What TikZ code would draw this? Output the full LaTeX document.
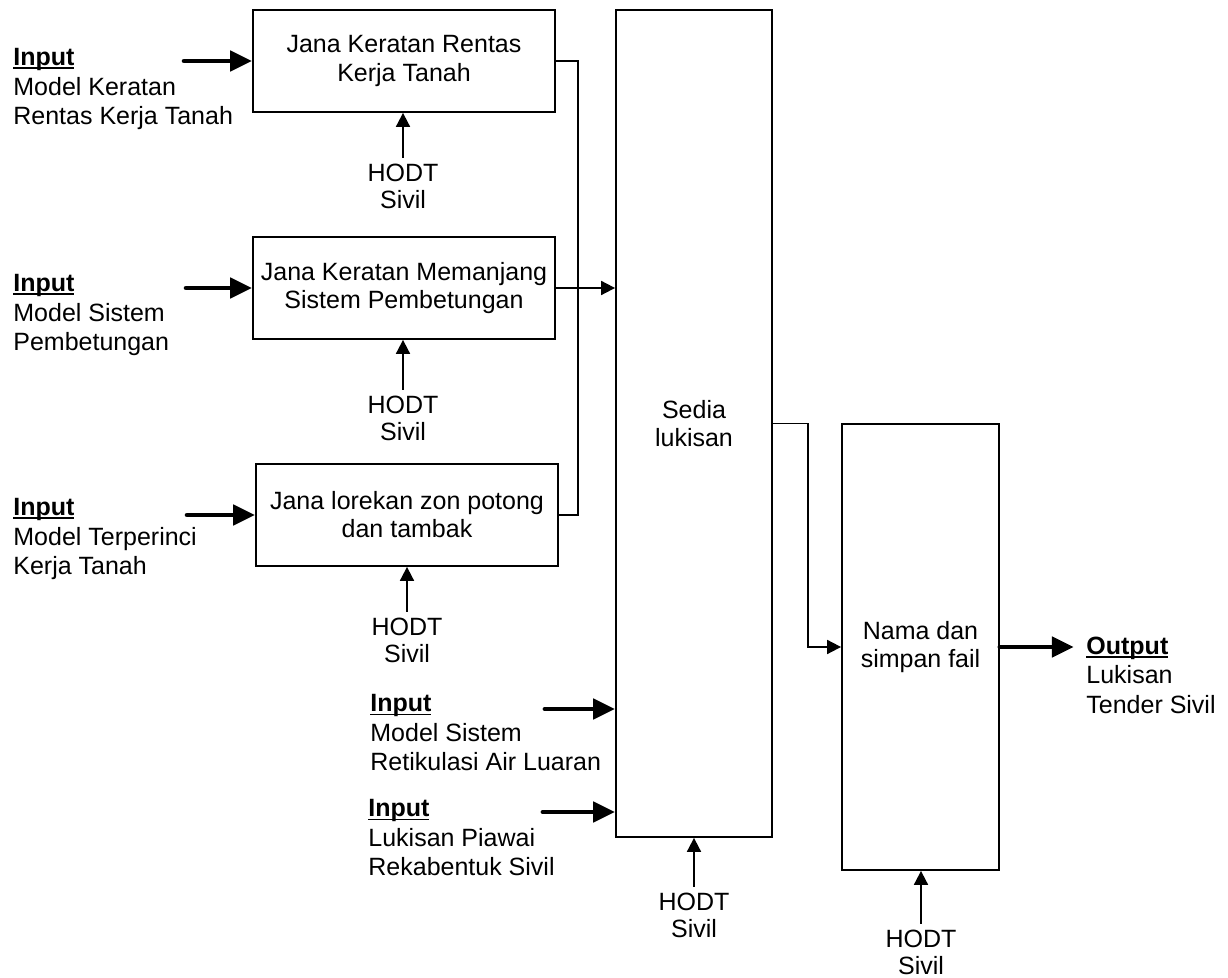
\documentclass[tikz,border=0pt]{standalone}
\usepackage{fontspec}
\setmainfont{Liberation Sans}
\usetikzlibrary{arrows.meta}
\usetikzlibrary{positioning}
\tikzset{>={Triangle[length=7pt,width=7pt]}}
\tikzset{proses/.style={draw,line width=0.9pt,align=center,inner sep=2pt,minimum width=151pt,minimum height=51pt}}
\tikzset{masuk/.style={align=left,anchor=west,inner sep=0pt,font=\fontsize{12.5}{14.75}\selectfont}}
\tikzset{hodt/.style={align=center,anchor=north,inner sep=3pt,font=\fontsize{12.5}{13.5}\selectfont}}
\tikzset{tebal/.style={line width=2.4pt,line cap=round,-{Triangle[length=11pt,width=10pt]}}}
\tikzset{garis/.style={line width=0.9pt}}
% tajuk tebal bergaris bawah, garis rapat pada garis dasar
\newcommand{\tajuk}[1]{\setbox0\hbox{\textbf{#1}}\rlap{\rule[-1.7pt]{\wd0}{0.9pt}}\box0}

\begin{document}
\begin{tikzpicture}[x=0.5pt,y=-0.5pt,font=\fontsize{12.5}{14}\selectfont]
				\useasboundingbox (0,0) rectangle (1228,978);
				% proses kiri
				\node[proses] (jkr) at (404,61) {Jana Keratan Rentas\\Kerja Tanah};
				\node[proses] (jkm) at (404,288) {Jana Keratan Memanjang\\Sistem Pembetungan};
				\node[proses] (jlz) at (407,515) {Jana lorekan zon potong\\dan tambak};
				% proses utama
				\node[proses,minimum width=78pt,minimum height=413.5pt] (sedia) at (694,423.5) {Sedia\\lukisan};
				\node[proses,minimum width=78.5pt,minimum height=223pt] (nama) at (920.5,647) {Nama dan\\simpan fail};
				
				% input
				\node[masuk] (in1) at (13,89) {\tajuk{Input}\\Model Keratan\\Rentas Kerja Tanah};
				\node[masuk] (in2) at (13,315) {\tajuk{Input}\\Model Sistem\\Pembetungan};
				\node[masuk] (in3) at (13,539) {\tajuk{Input}\\Model Terperinci\\Kerja Tanah};
				\node[masuk] (in4) at (370,733) {\tajuk{Input}\\Model Sistem\\Retikulasi Air Luaran};
				\node[masuk] (in5) at (368,838) {\tajuk{Input}\\Lukisan Piawai\\Rekabentuk Sivil};
				\node[masuk] (out) at (1086,675) {\tajuk{Output}\\Lukisan\\Tender Sivil};
				\coordinate[left=34pt of jkr.west] (a1);
				\coordinate[left=33pt of jkm.west] (a2);
				\coordinate[left=34pt of jlz.west] (a3);
				\coordinate (a4) at (545,709);
				\coordinate (a5) at (543,812);
				\coordinate[right=37pt of nama.east] (k1);
				\draw[tebal] (a1) -- (jkr.west);
				\draw[tebal] (a2) -- (jkm.west);
				\draw[tebal] (a3) -- (jlz.west);
				\draw[tebal] (a4) -- (a4 -| sedia.west);
				\draw[tebal] (a5) -- (a5 -| sedia.west);
				\draw[tebal] (nama.east) -- (k1);
				
				% HODT Sivil
				\node[hodt] (h1) at (403,158) {HODT\\Sivil};
				\node[hodt] (h2) at (403,390) {HODT\\Sivil};
				\node[hodt] (h3) at (407,612) {HODT\\Sivil};
				\node[hodt] (h4) at (694,887) {HODT\\Sivil};
				\node[hodt] (h5) at (921,924) {HODT\\Sivil};
				\draw[garis,->] (h1.north) -- (h1.north |- jkr.south);
				\draw[garis,->] (h2.north) -- (h2.north |- jkm.south);
				\draw[garis,->] (h3.north) -- (h3.north |- jlz.south);
				\draw[garis,->] (h4.north) -- (h4.north |- sedia.south);
				\draw[garis,->] (h5.north) -- (h5.north |- nama.south);
				
				% sambungan
				\coordinate (simpang) at (578,288);
				\draw[garis] (jkr.east) -| (simpang);
				\draw[garis] (jlz.east) -| (simpang);
				\draw[garis,->] (jkm.east) -- (jkm.east -| sedia.west);
				\coordinate[right=17.5pt of sedia.east] (belok);
				\draw[garis,->] (sedia.east) -- (belok) |- (nama.west);
\end{tikzpicture}
\end{document}
